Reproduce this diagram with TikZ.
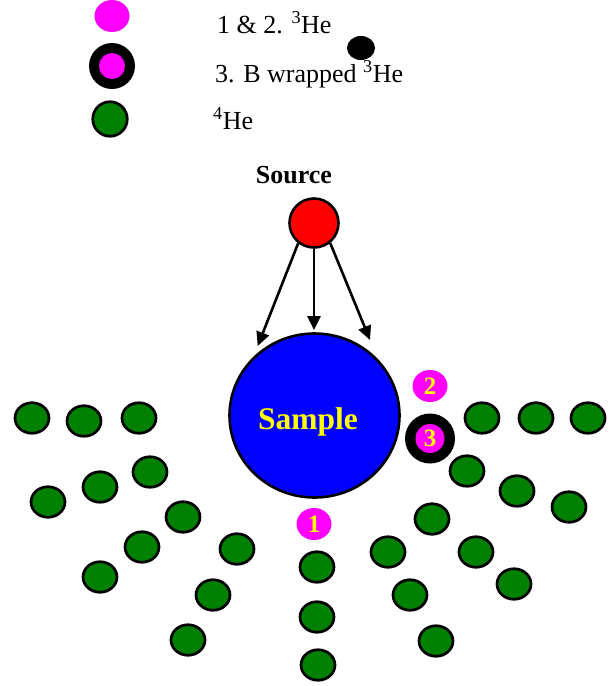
\documentclass[tikz,border=0pt]{standalone}
\usepackage{fontspec}
\setmainfont{Liberation Serif}
\usetikzlibrary{shapes.geometric,arrows.meta}
\definecolor{hegreen}{RGB}{0,128,0}
\definecolor{hemag}{RGB}{255,0,255}
\definecolor{smpblue}{RGB}{0,0,255}
\definecolor{srcred}{RGB}{255,0,0}
\definecolor{lblyellow}{RGB}{255,255,0}
\begin{document}
\begin{tikzpicture}[x=1pt,y=-1pt,
  hefour/.style={ellipse,draw=black,line width=2.7pt,fill=hegreen,minimum width=34pt,minimum height=30.5pt,inner sep=0pt},
  hethree/.style={ellipse,fill=hemag,minimum width=35pt,minimum height=32pt,inner sep=0pt,text=lblyellow,font=\fontsize{25}{25}\selectfont\bfseries},
  wrapring/.style={circle,fill=black,minimum size=50pt,inner sep=0pt},
  wrapcore/.style={circle,fill=hemag,minimum size=29pt,inner sep=0pt,text=lblyellow,font=\fontsize{25}{25}\selectfont\bfseries},
  legtext/.style={anchor=base west,inner sep=0pt,font=\fontsize{26}{30}\selectfont},
  arr/.style={line width=2.6pt,-{Triangle[length=14pt,width=13pt]}}
]
\useasboundingbox (0,0) rectangle (615,686);
% legend
\node[hethree] (l1) at (112,16) {};
\node[wrapring,minimum size=46pt] (l2o) at (112,66) {};
\node[wrapcore,minimum size=26pt] (l2i) at (112,66) {};
\node[hefour,minimum width=34.5pt,minimum height=34.5pt] (l3) at (110,119) {};
\node[legtext] (t1) at (217,33) {1 \& 2. \textsuperscript{3}He};
\node[legtext] (t2) at (215,82) {3. B wrapped \textsuperscript{3}He};
\node[legtext] (t3) at (213,129) {\textsuperscript{4}He};
\node[ellipse,fill=black,minimum width=28pt,minimum height=24pt,inner sep=0pt] (dot) at (361,48) {};
% source
\node[font=\fontsize{26}{30}\selectfont\bfseries,anchor=base,inner sep=0pt] (srclbl) at (294,183) {Source};
\node[circle,draw=black,line width=2.6pt,fill=srcred,minimum size=49pt,inner sep=0pt] (src) at (314,223) {};
% sample
\node[ellipse,draw=black,line width=2.6pt,fill=smpblue,minimum width=170pt,minimum height=164pt,inner sep=0pt] (smp) at (314.5,415.5) {};
\node[text=lblyellow,font=\fontsize{31.5}{32}\selectfont\bfseries,anchor=base,inner sep=0pt] (smplbl) at (308,429) {Sample};
% arrows
\coordinate (a1) at (257.7,346);
\coordinate (a2) at (314,330);
\coordinate (a3) at (370,340);
\draw[arr] (src.-128) -- (a1);
\draw[arr] (src.south) -- (a2);
\draw[arr] (src.-51) -- (a3);
% 4He atoms
\foreach \px/\py [count=\i] in {32/418,84/421,139/418,150/472,100/487,48/502,183/517,142/547,237/549,100/577,213/595,188/640,
  317/567,317/617,318/665,
  482/418,536/418,588/418,467/471,517/491,569/507,432/519,388/552,476/552,410/595,514/584,436/641}
  \node[hefour] (g\i) at (\px,\py) {};
% 3He atoms
\node[hethree] (m1) at (314,524) {1};
\node[hethree] (m2) at (430,386) {2};
\node[wrapring] (m3o) at (430,438.5) {};
\node[wrapcore] (m3) at (430,438.5) {3};
\end{tikzpicture}
\end{document}
